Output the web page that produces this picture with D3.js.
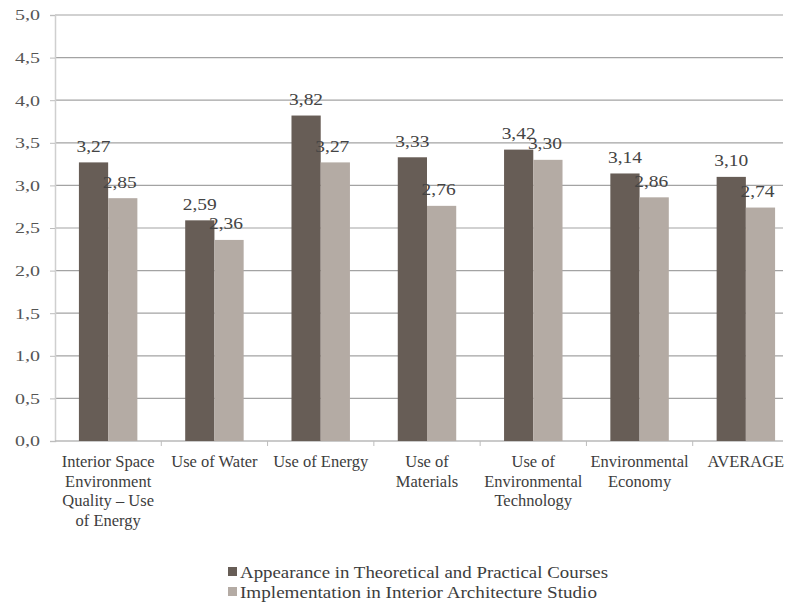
<!DOCTYPE html>
<html><head><meta charset="utf-8">
<script src="https://cdn.jsdelivr.net/npm/d3@7/dist/d3.min.js"></script>
<style>body{margin:0;background:#fff}svg{display:block}</style>
</head><body><svg id="c" width="791" height="606"></svg>
<script>
const categories = [
  ["Interior Space","Environment","Quality \u2013 Use","of Energy"],
  ["Use of Water"],
  ["Use of Energy"],
  ["Use of","Materials"],
  ["Use of","Environmental","Technology"],
  ["Environmental","Economy"],
  ["AVERAGE"]
];
const seriesNames = ["Appearance in Theoretical and Practical Courses","Implementation in Interior Architecture Studio"];
const theoretical = [3.27, 2.59, 3.82, 3.33, 3.42, 3.14, 3.10];
const studio = [2.85, 2.36, 3.27, 2.76, 3.30, 2.86, 2.74];
const yTicks = [0,0.5,1,1.5,2,2.5,3,3.5,4,4.5,5];
const colors = ["#675d56","#b4aba4"];

(function(){
const FF = "'Liberation Serif'";
const svg = d3.select("#c").style("font-family", FF);
const mLeft = 55, mRight = 799, mTop = 15, mBottom = 441, gridRight = 783;
const keys = categories.map((d,i)=>i);
const x0 = d3.scaleBand().domain(keys).range([mLeft,mRight]).padding(0);
const bw = x0.bandwidth();
const x1 = d3.scaleBand().domain([0,1]).range([bw*0.225, bw*0.775]).padding(0);
const y = d3.scaleLinear().domain([0,5]).range([mBottom,mTop]);
const fmt = v => d3.format(".1f")(v).replace(".",",");
const fmt2 = v => d3.format(".2f")(v).replace(".",",");

svg.append("g").selectAll("line").data(yTicks.filter(t=>t>0)).join("line")
  .attr("x1",mLeft).attr("x2",gridRight).attr("y1",d=>y(d)).attr("y2",d=>y(d))
  .attr("stroke","#a3a3a3").attr("stroke-width",1.2);

const yAxis = svg.append("g").attr("transform",`translate(${mLeft},0)`)
  .call(d3.axisLeft(y).tickValues(yTicks).tickFormat(fmt).tickSize(5).tickPadding(10));
yAxis.attr("font-family", null);
yAxis.select(".domain").attr("stroke","#cfcfcf").attr("stroke-width",1.5);
yAxis.selectAll(".tick line").attr("stroke","#bdbdbd");
yAxis.selectAll("text").attr("font-size",15.5).attr("fill","#555").style("font-family", FF)
  .attr("textLength",25).attr("lengthAdjust","spacingAndGlyphs");

const xAxis = svg.append("g").attr("transform",`translate(0,${mBottom})`);
xAxis.append("line").attr("x1",mLeft).attr("x2",gridRight).attr("stroke","#b8b8b8").attr("stroke-width",1.5);
xAxis.selectAll("line.t").data(keys.slice(1)).join("line").attr("class","t")
  .attr("x1",d=>x0(d)).attr("x2",d=>x0(d)).attr("y1",0).attr("y2",5).attr("stroke","#bdbdbd");

const groups = svg.append("g").selectAll("g").data(keys).join("g")
  .attr("transform",d=>`translate(${x0(d)},0)`);
[theoretical, studio].forEach((vals, s) => {
  groups.append("rect")
    .attr("x", x1(s)).attr("width", x1.bandwidth())
    .attr("y", d=>y(vals[d])).attr("height", d=>mBottom - y(vals[d]))
    .attr("fill", colors[s]);
  groups.append("text")
    .attr("x", x1(s) + x1.bandwidth()/2 - (s===1?3:0)).attr("y", d=>y(vals[d]) - 10.5)
    .attr("text-anchor","middle").attr("font-size",16.5).attr("fill","#444").style("font-family", FF)
    .attr("textLength",34).attr("lengthAdjust","spacingAndGlyphs")
    .text(d=>fmt2(vals[d]));
});

const lab = svg.append("g").selectAll("text").data(keys).join("text")
  .attr("x", d=>x0(d)+bw/2).attr("y", mBottom+26)
  .attr("text-anchor","middle").attr("font-size",16.5).attr("fill","#3d3d3d").style("font-family", FF);
lab.selectAll("tspan").data(d=>categories[d]).join("tspan")
  .attr("x", function(){return d3.select(this.parentNode).attr("x");})
  .attr("dy",(d,i)=>i===0?0:19.5).text(d=>d);

const legendLen = [368, 357];
const lg = svg.append("g").selectAll("g").data(seriesNames).join("g")
  .attr("transform",(d,i)=>`translate(228,${572+i*20})`);
lg.append("rect").attr("x",0).attr("y",-5).attr("width",9).attr("height",9).attr("fill",(d,i)=>colors[i]);
lg.append("text").attr("x",12).attr("y",5.5).attr("font-size",16.5).attr("fill","#3d3d3d").style("font-family", FF)
  .attr("textLength",(d,i)=>legendLen[i]).attr("lengthAdjust","spacingAndGlyphs").text(d=>d);
})();
</script></body></html>
